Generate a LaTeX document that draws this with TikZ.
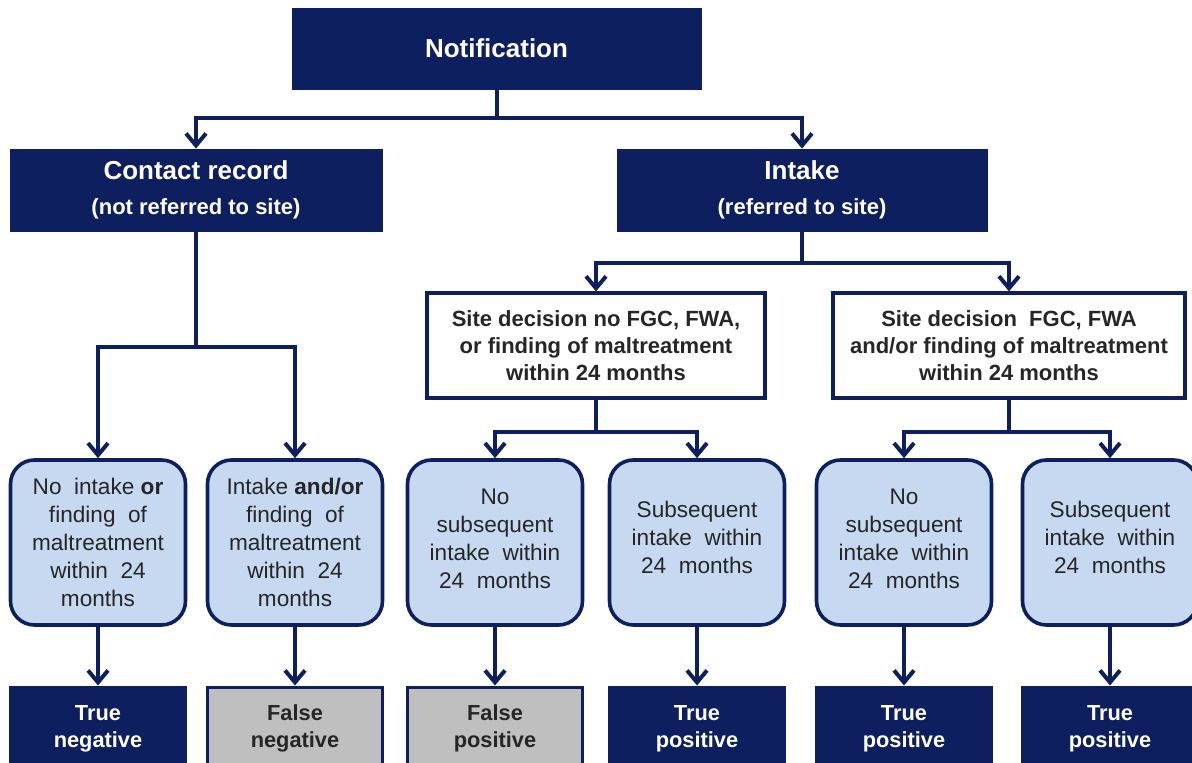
\documentclass[tikz,border=0pt]{standalone}
\usepackage{fontspec}
\setmainfont{Liberation Sans}
\usetikzlibrary{arrows.meta}
\definecolor{navy}{RGB}{13,31,94}
\definecolor{paleblue}{RGB}{198,217,241}
\definecolor{midgrey}{RGB}{191,191,191}
\definecolor{txtgrey}{RGB}{38,38,38}
\tikzset{
    headbox/.style={fill=navy, draw=navy, text=white, align=center, inner sep=0pt,
        font=\bfseries\fontsize{13}{17.5}\selectfont},
    sitebox/.style={fill=white, draw=navy, line width=1.6pt, text=txtgrey, align=center,
        inner sep=0pt, minimum height=52.5pt, font=\bfseries\fontsize{11}{13.5}\selectfont},
    outcome/.style={rounded corners=12pt, fill=paleblue, draw=navy, line width=1.8pt,
        text=txtgrey, align=center, inner sep=0pt, minimum width=87.5pt,
        minimum height=82.5pt, font=\fontsize{11.3}{14}\selectfont},
    truebox/.style={fill=navy, draw=navy, line width=1.5pt, text=white, align=center,
        inner sep=0pt, minimum width=87.5pt, minimum height=41.5pt,
        font=\bfseries\fontsize{10.9}{13.5}\selectfont},
    falsebox/.style={truebox, fill=midgrey, text=txtgrey},
    conn/.style={navy, line width=2pt},
    arr/.style={conn, -{Straight Barb[length=6pt,width=10pt]}}
}
\newcommand{\subline}[1]{{\fontsize{11}{13}\selectfont #1}}
\begin{document}
\begin{tikzpicture}[x=0.5pt, y=-0.5pt]
    \useasboundingbox (0,0) rectangle (1192,763);
    \clip (0,0) rectangle (1192,763);
    % top level
    \node[headbox, minimum width=204.5pt, minimum height=40.5pt] (notif) at (496.5,48.5) {Notification};
    \node[headbox, minimum width=186pt, minimum height=41pt] (contact) at (196,190) {Contact record\\\subline{(not referred to site)}};
    \node[headbox, minimum width=185pt, minimum height=41pt] (intake) at (802,190) {Intake\\\subline{(referred to site)}};
    % site decisions
    \node[sitebox, minimum width=169pt] (siteno) at (596,345.5) {Site decision no FGC, FWA,\\or finding of maltreatment\\within 24 months};
    \node[sitebox, minimum width=176pt] (siteyes) at (1009,345.5) {Site decision\ \ FGC, FWA\\and/or finding of maltreatment\\within 24 months};
    % outcomes
    \node[outcome] (out1) at (98,542.5) {No\ \ intake \textbf{or}\\finding\ \ of\\maltreatment\\within\ \ 24\\months};
    \node[outcome] (out2) at (295,542.5) {Intake \textbf{and/or}\\finding\ \ of\\maltreatment\\within\ \ 24\\months};
    \node[outcome, text depth=3.5pt] (out3) at (495,542.5) {No\\subsequent\\intake\ \ within\\24\ \ months};
    \node[outcome, text depth=5.5pt] (out4) at (697,542.5) {Subsequent\\intake\ \ within\\24\ \ months};
    \node[outcome, text depth=3.5pt] (out5) at (904,542.5) {No\\subsequent\\intake\ \ within\\24\ \ months};
    \node[outcome, text depth=5.5pt] (out6) at (1110,542.5) {Subsequent\\intake\ \ within\\24\ \ months};
    % results
    \node[truebox] (res1) at (98,728.5) {True\\negative};
    \node[falsebox] (res2) at (295,728.5) {False\\negative};
    \node[falsebox] (res3) at (495,728.5) {False\\positive};
    \node[truebox] (res4) at (697,728.5) {True\\positive};
    \node[truebox] (res5) at (904,728.5) {True\\positive};
    \node[truebox] (res6) at (1110,728.5) {True\\positive};
    % connectors
    \draw[conn] (notif.south) -- ++(0,29) coordinate (split0);
    \draw[arr] (split0) -| (contact.north);
    \draw[arr] (split0) -| (intake.north);
    \draw[conn] (contact.south) -- ++(0,116) coordinate (split1);
    \draw[arr] (split1) -| (out1.north);
    \draw[arr] (split1) -| (out2.north);
    \draw[conn] (intake.south) -- ++(0,32) coordinate (split2);
    \draw[arr] (split2) -| (siteno.north);
    \draw[arr] (split2) -| (siteyes.north);
    \draw[conn] (siteno.south) -- ++(0,32) coordinate (split3);
    \draw[arr] (split3) -| (out3.north);
    \draw[arr] (split3) -| (out4.north);
    \draw[conn] (siteyes.south) -- ++(0,32) coordinate (split4);
    \draw[arr] (split4) -| (out5.north);
    \draw[arr] (split4) -| (out6.north);
    \draw[arr] (out1.south) -- (res1.north);
    \draw[arr] (out2.south) -- (res2.north);
    \draw[arr] (out3.south) -- (res3.north);
    \draw[arr] (out4.south) -- (res4.north);
    \draw[arr] (out5.south) -- (res5.north);
    \draw[arr] (out6.south) -- (res6.north);
\end{tikzpicture}
\end{document}
